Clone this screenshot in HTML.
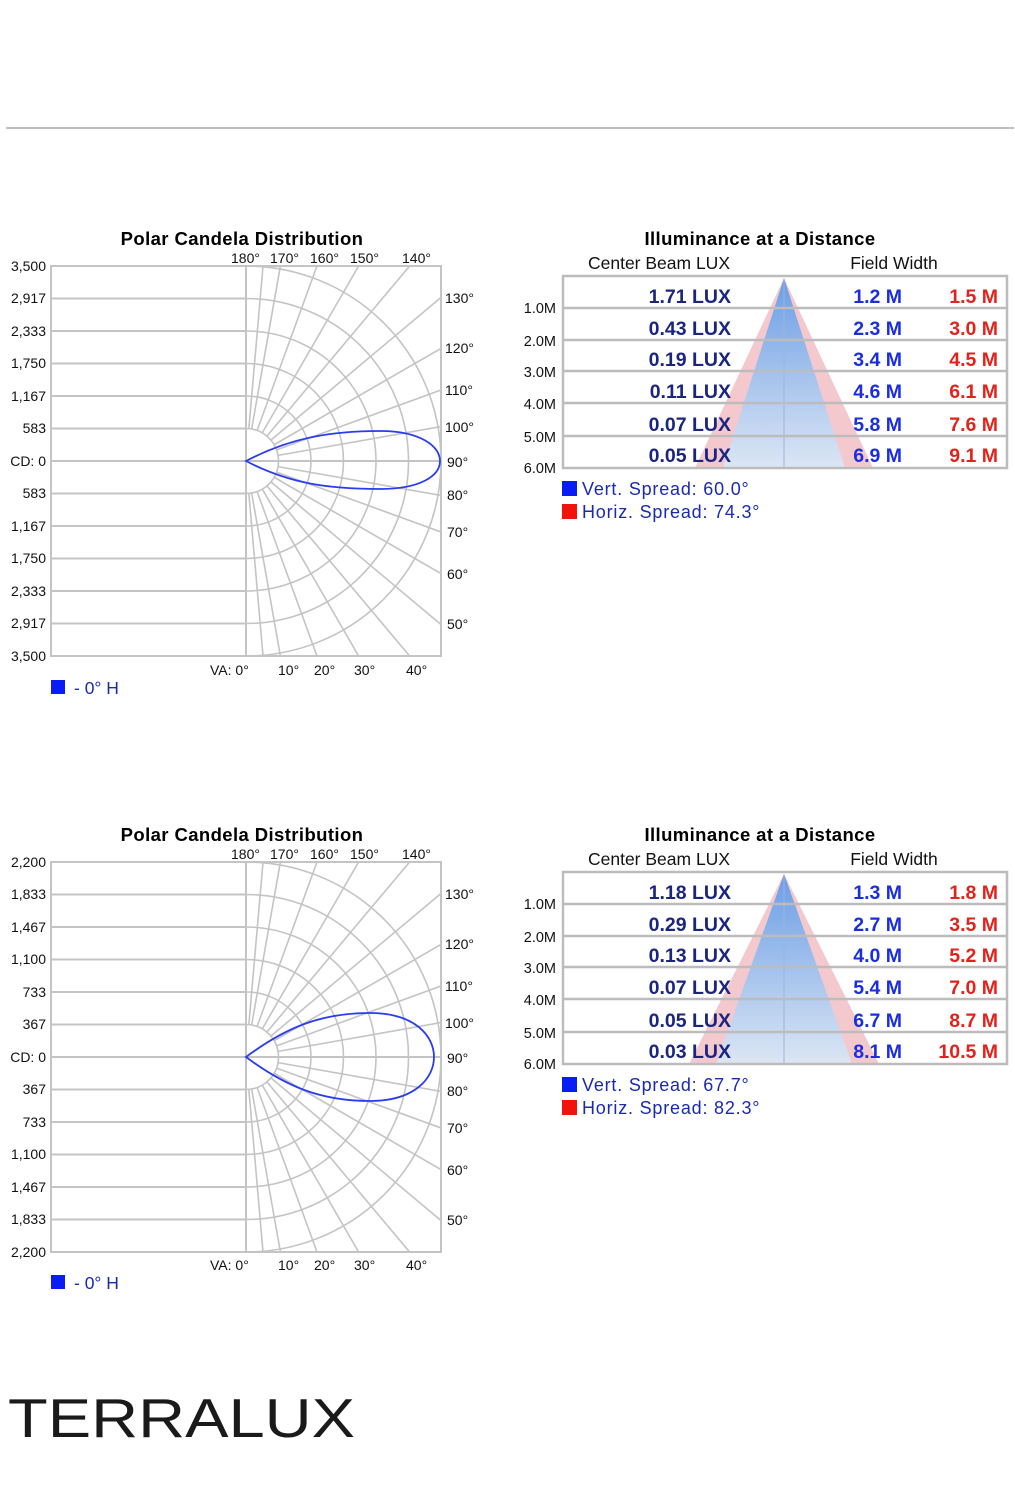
<!DOCTYPE html>
<html><head><meta charset="utf-8"><style>
html,body{margin:0;padding:0;background:#fff;}
svg{display:block;font-family:"Liberation Sans","DejaVu Sans",sans-serif;}
</style></head><body>
<svg width="1015" height="1488" viewBox="0 0 1015 1488" xmlns="http://www.w3.org/2000/svg">
<defs>
<clipPath id="cp"><rect x="0" y="-195" width="195" height="390"/></clipPath>
<linearGradient id="bg" x1="0" y1="0" x2="0" y2="1"><stop offset="0" stop-color="#6a9de6"/><stop offset="1" stop-color="#dce6f4"/></linearGradient>
<g id="grid" stroke="#c4c4c4" stroke-width="1.6" fill="none">
 <g stroke-width="2">
 <line x1="-195" y1="-195" x2="0" y2="-195"/><line x1="-195" y1="-162.5" x2="0" y2="-162.5"/><line x1="-195" y1="-130" x2="0" y2="-130"/><line x1="-195" y1="-97.5" x2="0" y2="-97.5"/><line x1="-195" y1="-65" x2="0" y2="-65"/><line x1="-195" y1="-32.5" x2="0" y2="-32.5"/><line x1="-195" y1="0" x2="195" y2="0"/><line x1="-195" y1="32.5" x2="0" y2="32.5"/><line x1="-195" y1="65" x2="0" y2="65"/><line x1="-195" y1="97.5" x2="0" y2="97.5"/><line x1="-195" y1="130" x2="0" y2="130"/><line x1="-195" y1="162.5" x2="0" y2="162.5"/><line x1="-195" y1="195" x2="0" y2="195"/>
 <line x1="0" y1="-195" x2="0" y2="195"/>
 </g>
 <g clip-path="url(#cp)">
 <path d="M0,-32.5A32.5,32.5 0 0 1 0,32.5M0,-65A65,65 0 0 1 0,65M0,-97.5A97.5,97.5 0 0 1 0,97.5M0,-130A130,130 0 0 1 0,130M0,-162.5A162.5,162.5 0 0 1 0,162.5M0,-195A195,195 0 0 1 0,195"/>
 <path d="M2.83,32.38L26.1,298.9M5.64,32L52.1,295.4M11.1,30.5L102.6,281.9M16.25,28.1L150,259.8M20.9,24.9L192.8,229.8M24.9,20.9L229.8,192.8M28.1,16.25L259.8,150M30.5,11.1L281.9,102.6M32,5.64L295.4,52.1M2.83,-32.38L26.1,-298.9M5.64,-32L52.1,-295.4M11.1,-30.5L102.6,-281.9M16.25,-28.1L150,-259.8M20.9,-24.9L192.8,-229.8M24.9,-20.9L229.8,-192.8M28.1,-16.25L259.8,-150M30.5,-11.1L281.9,-102.6M32,-5.64L295.4,-52.1"/>
 </g>
 <rect x="-195" y="-195" width="390" height="390" stroke-width="2"/>
</g>
</defs>

<line x1="6" y1="128" x2="1014" y2="128" stroke="#999" stroke-width="1.2"/>

<!-- ===== Chart 1 ===== -->
<text x="242" y="245" font-size="18.5" font-weight="bold" text-anchor="middle" fill="#000" letter-spacing="0.4">Polar Candela Distribution</text>
<use href="#grid" transform="translate(246,461)"/>
<path d="M246,461 C290,438 330,431 380,431 C420,431 440,446 440,461 C440,476 420,489 380,489 C330,489 290,484 246,461Z" fill="none" stroke="#2a3cf0" stroke-width="1.8"/>
<g font-size="14" fill="#111" text-anchor="end">
<text x="46" y="271">3,500</text><text x="46" y="303">2,917</text><text x="46" y="336">2,333</text><text x="46" y="368">1,750</text><text x="46" y="401">1,167</text><text x="46" y="433">583</text><text x="46" y="466">CD: 0</text><text x="46" y="498">583</text><text x="46" y="531">1,167</text><text x="46" y="563">1,750</text><text x="46" y="596">2,333</text><text x="46" y="628">2,917</text><text x="46" y="661">3,500</text>
</g>
<g font-size="14" fill="#111">
<text x="231" y="263">180°</text><text x="270" y="263">170°</text><text x="310" y="263">160°</text><text x="350" y="263">150°</text><text x="402" y="263">140°</text>
<text x="445" y="303">130°</text><text x="445" y="353">120°</text><text x="445" y="395">110°</text><text x="445" y="432">100°</text><text x="447" y="467">90°</text><text x="447" y="500">80°</text><text x="447" y="537">70°</text><text x="447" y="579">60°</text><text x="447" y="629">50°</text>
<text x="210" y="675">VA: 0°</text><text x="278" y="675">10°</text><text x="314" y="675">20°</text><text x="354" y="675">30°</text><text x="406" y="675">40°</text>
</g>
<rect x="51" y="680" width="14" height="14" fill="#0a1cf5"/>
<text x="74" y="694" font-size="17.5" fill="#1a2ab0">- 0° H</text>

<!-- Table 1 -->
<text x="760" y="245" font-size="18.5" font-weight="bold" text-anchor="middle" fill="#000" letter-spacing="0.4">Illuminance at a Distance</text>
<text x="659" y="269" font-size="17.5" text-anchor="middle" fill="#111">Center Beam LUX</text>
<text x="894" y="269" font-size="17.5" text-anchor="middle" fill="#111">Field Width</text>
<polygon points="784,278 695,468 873,468" fill="#f4c9ce"/>
<polygon points="784,278 723,468 845,468" fill="url(#bg)"/>
<line x1="784" y1="280" x2="784" y2="468" stroke="#9db4d8" stroke-width="1"/>
<g stroke="#bcbcbc" stroke-width="2.5" fill="none">
<rect x="563" y="276" width="444" height="192"/>
<line x1="563" y1="308" x2="1007" y2="308"/><line x1="563" y1="340" x2="1007" y2="340"/><line x1="563" y1="371" x2="1007" y2="371"/><line x1="563" y1="403" x2="1007" y2="403"/><line x1="563" y1="436" x2="1007" y2="436"/>
</g>
<g font-size="14.5" fill="#111" text-anchor="end">
<text x="556" y="313">1.0M</text><text x="556" y="346">2.0M</text><text x="556" y="377">3.0M</text><text x="556" y="409">4.0M</text><text x="556" y="442">5.0M</text><text x="556" y="473">6.0M</text>
</g>
<g font-size="19.5" font-weight="bold" text-anchor="end">
<g fill="#1b2580"><text x="731" y="303">1.71 LUX</text><text x="731" y="335">0.43 LUX</text><text x="731" y="366">0.19 LUX</text><text x="731" y="398">0.11 LUX</text><text x="731" y="431">0.07 LUX</text><text x="731" y="462">0.05 LUX</text></g>
<g fill="#1a2ee0"><text x="902" y="303">1.2 M</text><text x="902" y="335">2.3 M</text><text x="902" y="366">3.4 M</text><text x="902" y="398">4.6 M</text><text x="902" y="431">5.8 M</text><text x="902" y="462">6.9 M</text></g>
<g fill="#e3231b"><text x="998" y="303">1.5 M</text><text x="998" y="335">3.0 M</text><text x="998" y="366">4.5 M</text><text x="998" y="398">6.1 M</text><text x="998" y="431">7.6 M</text><text x="998" y="462">9.1 M</text></g>
</g>
<rect x="562" y="481" width="15" height="15" fill="#0a1cf5"/>
<rect x="562" y="504" width="15" height="15" fill="#f0140c"/>
<text x="582" y="495" font-size="18" fill="#1a2ab0" letter-spacing="0.8">Vert.  Spread: 60.0°</text>
<text x="582" y="518" font-size="18" fill="#1a2ab0" letter-spacing="0.8">Horiz. Spread: 74.3°</text>

<!-- ===== Chart 2 ===== -->
<g transform="translate(0,596)">
<text x="242" y="245" font-size="18.5" font-weight="bold" text-anchor="middle" fill="#000" letter-spacing="0.4">Polar Candela Distribution</text>
<use href="#grid" transform="translate(246,461)"/>
<path d="M246,461 C285,432 320,417 370,417 C415,417 434,440 434,461 C434,482 415,505 370,505 C320,505 285,490 246,461Z" fill="none" stroke="#2a3cf0" stroke-width="1.8"/>
<g font-size="14" fill="#111" text-anchor="end">
<text x="46" y="271">2,200</text><text x="46" y="303">1,833</text><text x="46" y="336">1,467</text><text x="46" y="368">1,100</text><text x="46" y="401">733</text><text x="46" y="433">367</text><text x="46" y="466">CD: 0</text><text x="46" y="498">367</text><text x="46" y="531">733</text><text x="46" y="563">1,100</text><text x="46" y="596">1,467</text><text x="46" y="628">1,833</text><text x="46" y="661">2,200</text>
</g>
<g font-size="14" fill="#111">
<text x="231" y="263">180°</text><text x="270" y="263">170°</text><text x="310" y="263">160°</text><text x="350" y="263">150°</text><text x="402" y="263">140°</text>
<text x="445" y="303">130°</text><text x="445" y="353">120°</text><text x="445" y="395">110°</text><text x="445" y="432">100°</text><text x="447" y="467">90°</text><text x="447" y="500">80°</text><text x="447" y="537">70°</text><text x="447" y="579">60°</text><text x="447" y="629">50°</text>
<text x="210" y="674">VA: 0°</text><text x="278" y="674">10°</text><text x="314" y="674">20°</text><text x="354" y="674">30°</text><text x="406" y="674">40°</text>
</g>
<rect x="51" y="679" width="14" height="14" fill="#0a1cf5"/>
<text x="74" y="693" font-size="17.5" fill="#1a2ab0">- 0° H</text>

<text x="760" y="245" font-size="18.5" font-weight="bold" text-anchor="middle" fill="#000" letter-spacing="0.4">Illuminance at a Distance</text>
<text x="659" y="269" font-size="17.5" text-anchor="middle" fill="#111">Center Beam LUX</text>
<text x="894" y="269" font-size="17.5" text-anchor="middle" fill="#111">Field Width</text>
<polygon points="784,278 689,468 879,468" fill="#f4c9ce"/>
<polygon points="784,278 716,468 852,468" fill="url(#bg)"/>
<line x1="784" y1="280" x2="784" y2="468" stroke="#9db4d8" stroke-width="1"/>
<g stroke="#bcbcbc" stroke-width="2.5" fill="none">
<rect x="563" y="276" width="444" height="192"/>
<line x1="563" y1="308" x2="1007" y2="308"/><line x1="563" y1="340" x2="1007" y2="340"/><line x1="563" y1="371" x2="1007" y2="371"/><line x1="563" y1="403" x2="1007" y2="403"/><line x1="563" y1="436" x2="1007" y2="436"/>
</g>
<g font-size="14.5" fill="#111" text-anchor="end">
<text x="556" y="313">1.0M</text><text x="556" y="346">2.0M</text><text x="556" y="377">3.0M</text><text x="556" y="409">4.0M</text><text x="556" y="442">5.0M</text><text x="556" y="473">6.0M</text>
</g>
<g font-size="19.5" font-weight="bold" text-anchor="end">
<g fill="#1b2580"><text x="731" y="303">1.18 LUX</text><text x="731" y="335">0.29 LUX</text><text x="731" y="366">0.13 LUX</text><text x="731" y="398">0.07 LUX</text><text x="731" y="431">0.05 LUX</text><text x="731" y="462">0.03 LUX</text></g>
<g fill="#1a2ee0"><text x="902" y="303">1.3 M</text><text x="902" y="335">2.7 M</text><text x="902" y="366">4.0 M</text><text x="902" y="398">5.4 M</text><text x="902" y="431">6.7 M</text><text x="902" y="462">8.1 M</text></g>
<g fill="#e3231b"><text x="998" y="303">1.8 M</text><text x="998" y="335">3.5 M</text><text x="998" y="366">5.2 M</text><text x="998" y="398">7.0 M</text><text x="998" y="431">8.7 M</text><text x="998" y="462">10.5 M</text></g>
</g>
<rect x="562" y="481" width="15" height="15" fill="#0a1cf5"/>
<rect x="562" y="504" width="15" height="15" fill="#f0140c"/>
<text x="582" y="495" font-size="18" fill="#1a2ab0" letter-spacing="0.8">Vert.  Spread: 67.7°</text>
<text x="582" y="518" font-size="18" fill="#1a2ab0" letter-spacing="0.8">Horiz. Spread: 82.3°</text>
</g>

<text x="8" y="1437" font-size="55" fill="#1a1a1a" textLength="347" lengthAdjust="spacingAndGlyphs">TERRALUX</text>
</svg>
</body></html>
